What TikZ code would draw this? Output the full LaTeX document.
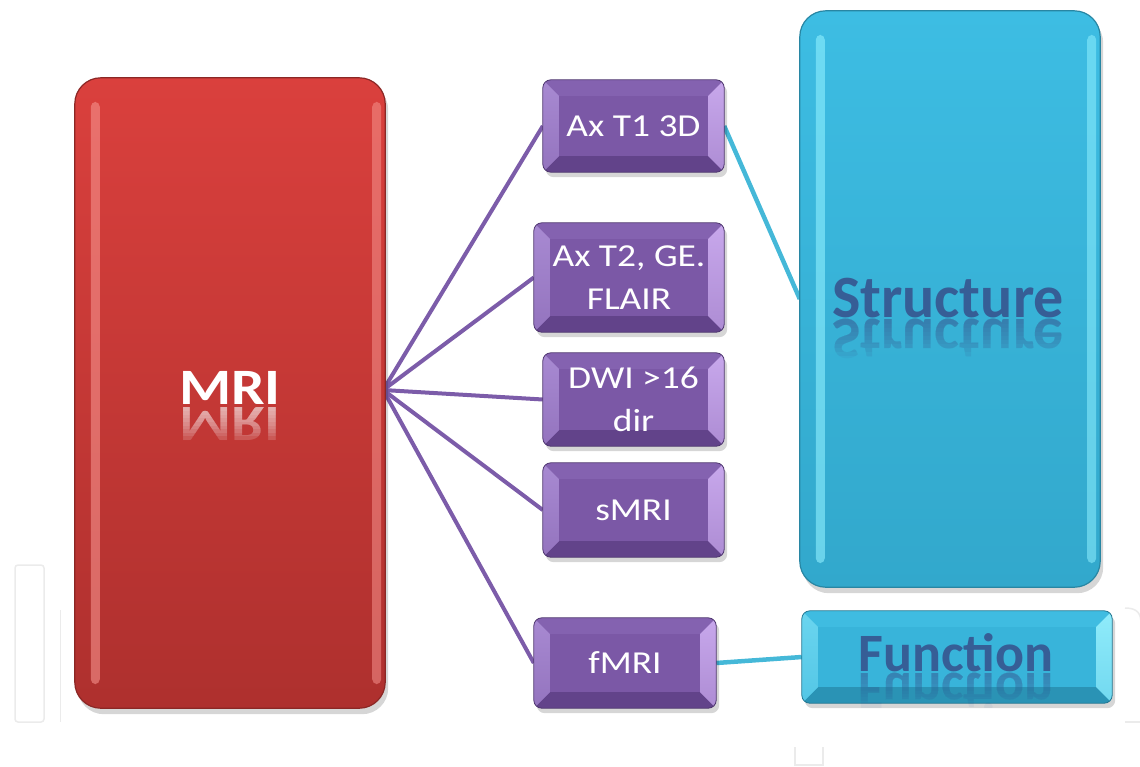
\documentclass[tikz,border=0pt]{standalone}
\usepackage{graphicx}
\usepackage{fontspec}
\setmainfont{Carlito}
\usetikzlibrary{calc}
\pgfdeclarelayer{lines}
\pgfdeclarelayer{bg}
\pgfsetlayers{lines,bg,main}

\definecolor{redtop}{HTML}{DA403D}
\definecolor{redbot}{HTML}{AE302E}
\definecolor{redhl}{HTML}{F5918C}
\definecolor{pbase}{HTML}{7B58A6}
\definecolor{ptop}{HTML}{8462B0}
\definecolor{pleft}{HTML}{A88AD2}
\definecolor{pright}{HTML}{C8A8EC}
\definecolor{pbot}{HTML}{62438A}
\definecolor{cbase}{HTML}{38B4DA}
\definecolor{ctop}{HTML}{3FBCE1}
\definecolor{cleft}{HTML}{6AD5EF}
\definecolor{cright}{HTML}{90ECFB}
\definecolor{cbot}{HTML}{2A93B5}
\definecolor{ctalltop}{HTML}{3DBDE3}
\definecolor{ctallbot}{HTML}{32A8CC}
\definecolor{chl}{HTML}{8FF0FF}
\definecolor{bluetxt}{HTML}{365E96}
\definecolor{pline}{HTML}{7C5CA9}
\definecolor{cline}{HTML}{45B8D8}
\definecolor{wm}{HTML}{EBEBEB}

\newcommand\wide[1]{\scalebox{1.17}[1]{#1}}

\tikzset{
  boxnode/.style={rectangle, inner sep=0pt, draw=none},
  ptext/.style={boxnode, text=white, font=\fontsize{32}{43}\selectfont, align=center},
  plink/.style={draw=pline, line width=4pt},
  clink/.style={draw=cline, line width=4.5pt},
  biglabel/.style={anchor=base, inner sep=0pt, font=\bfseries\fontsize{#1}{#1}\selectfont},
  wmline/.style={draw=wm, line width=1.5pt}
}

% bevelled small box background: node, colour prefix
\newcommand\bevelbg[2]{%
  \fill[black, opacity=0.16, rounded corners=8pt] ([shift={(3,5)}]#1.north west) rectangle ([shift={(3,5)}]#1.south east);
  \begin{scope}
    \clip[rounded corners=8pt] (#1.north west) rectangle (#1.south east);
    \fill[#2base] (#1.north west) rectangle (#1.south east);
    \coordinate (#1-inw) at ([shift={(16,16)}]#1.north west);
    \coordinate (#1-ine) at ([shift={(-16,16)}]#1.north east);
    \coordinate (#1-isw) at ([shift={(16,-16)}]#1.south west);
    \coordinate (#1-ise) at ([shift={(-16,-16)}]#1.south east);
    \fill[#2top] (#1.north west) -- (#1.north east) -- (#1-ine) -- (#1-inw) -- cycle;
    \fill[#2bot] (#1.south west) -- (#1.south east) -- (#1-ise) -- (#1-isw) -- cycle;
    \shade[top color=#2left, bottom color=#2left!55!#2base] (#1.north west) -- (#1-inw) -- (#1-isw) -- (#1.south west) -- cycle;
    \shade[top color=#2right, bottom color=#2right!65!#2base] (#1.north east) -- (#1-ine) -- (#1-ise) -- (#1.south east) -- cycle;
  \end{scope}
  \draw[#2bot!80!black, line width=0.8pt, rounded corners=8pt] (#1.north west) rectangle (#1.south east);
}

% glossy tall box background: node, top colour, bottom colour, highlight
\newcommand\glossbg[4]{%
  \fill[black, opacity=0.16, rounded corners=26pt] ([shift={(3,6)}]#1.north west) rectangle ([shift={(3,6)}]#1.south east);
  \shade[top color=#2, bottom color=#3, rounded corners=26pt] (#1.north west) rectangle (#1.south east);
  \draw[#3!80!black, line width=1.2pt, rounded corners=26pt] (#1.north west) rectangle (#1.south east);
  \fill[#4, opacity=0.6, rounded corners=5pt] ([shift={(16,24)}]#1.north west) rectangle ([shift={(25,-24)}]#1.south west);
  \fill[#4, opacity=0.55, rounded corners=5pt] ([shift={(-13,24)}]#1.north east) rectangle ([shift={(-4,-24)}]#1.south east);
}

% fading mirrored text (cumulative layers): x, baseline y, height, style, text, layer opacity
\newcommand\mirrortext[6]{%
  \foreach \k in {1,...,10}{%
    \begin{scope}
      \clip (#1-250,#2-6) rectangle (#1+250,#2+\k*#3/10);
      \node[#4, text opacity=#6] at (#1,#2) {\scalebox{1}[-1]{#5}};
    \end{scope}
  }%
}

\begin{document}
\begin{tikzpicture}[x=1pt,y=-1pt]
\useasboundingbox (0,0) rectangle (1140,766);

% faint marks
\draw[wmline, rounded corners=3pt] (15,565) rectangle (44,722);
\draw[wmline, line width=1pt] (60,610) -- (60,722);
\draw[wmline] (1125,608) .. controls (1138,608) and (1141,614) .. (1141,624);
\draw[wmline] (1125,722) -- (1141,722);
\draw[wmline] (795,747) -- (795,765) -- (823,765) -- (823,747);

% boxes
\node[boxnode, minimum width=310pt, minimum height=630pt] (mri) at (230,393) {};
\node[ptext, minimum width=181pt, minimum height=92pt] (t1) at (633.5,126) {\wide{Ax T1 3D}};
\node[ptext, minimum width=190pt, minimum height=109pt] (t2) at (629,277.5) {\wide{Ax T2, GE.}\\\wide{FLAIR}};
\node[ptext, minimum width=181pt, minimum height=93pt] (dwi) at (633.5,399.5) {\wide{DWI >16}\\\wide{dir}};
\node[ptext, minimum width=181pt, minimum height=94pt] (smri) at (633.5,510) {\wide{sMRI}};
\node[ptext, minimum width=182pt, minimum height=90pt] (fmri) at (625,663) {\wide{fMRI}};
\node[boxnode, minimum width=300pt, minimum height=576pt] (struct) at (950,299) {};
\node[boxnode, minimum width=310pt, minimum height=92pt] (func) at (957,657) {};

% labels with reflections
\node[biglabel=51, text=white] (mrilabel) at (230,404) {\wide{MRI}};
\mirrortext{230}{407}{36}{biglabel=51, text=white}{\wide{MRI}}{0.09}
\node[biglabel=60, text=bluetxt] (structlabel) at (948,317) {Structure};
\mirrortext{948}{319}{40}{biglabel=60, text=bluetxt}{Structure}{0.08}
\node[biglabel=54, text=bluetxt] (funclabel) at (956,671) {Function};
\mirrortext{956}{673}{34}{biglabel=54, text=bluetxt}{Function}{0.07}

% backgrounds
\begin{pgfonlayer}{bg}
  \glossbg{mri}{redtop}{redbot}{redhl}
  \glossbg{struct}{ctalltop}{ctallbot}{chl}
  \bevelbg{t1}{p}
  \bevelbg{t2}{p}
  \bevelbg{dwi}{p}
  \bevelbg{smri}{p}
  \bevelbg{fmri}{p}
  \bevelbg{func}{c}
\end{pgfonlayer}

% connectors
\begin{pgfonlayer}{lines}
  \coordinate (fan) at ([xshift=-2pt,yshift=3pt]mri.east);
  \draw[plink] (fan) -- (t1.west);
  \draw[plink] (fan) -- (t2.west);
  \draw[plink] (fan) -- (dwi.west);
  \draw[plink] (fan) -- (smri.west);
  \draw[plink] (fan) -- (fmri.west);
  \draw[clink] (t1.east) -- (struct.west);
  \draw[clink] (fmri.east) -- (func.west);
\end{pgfonlayer}
\end{tikzpicture}
\end{document}
